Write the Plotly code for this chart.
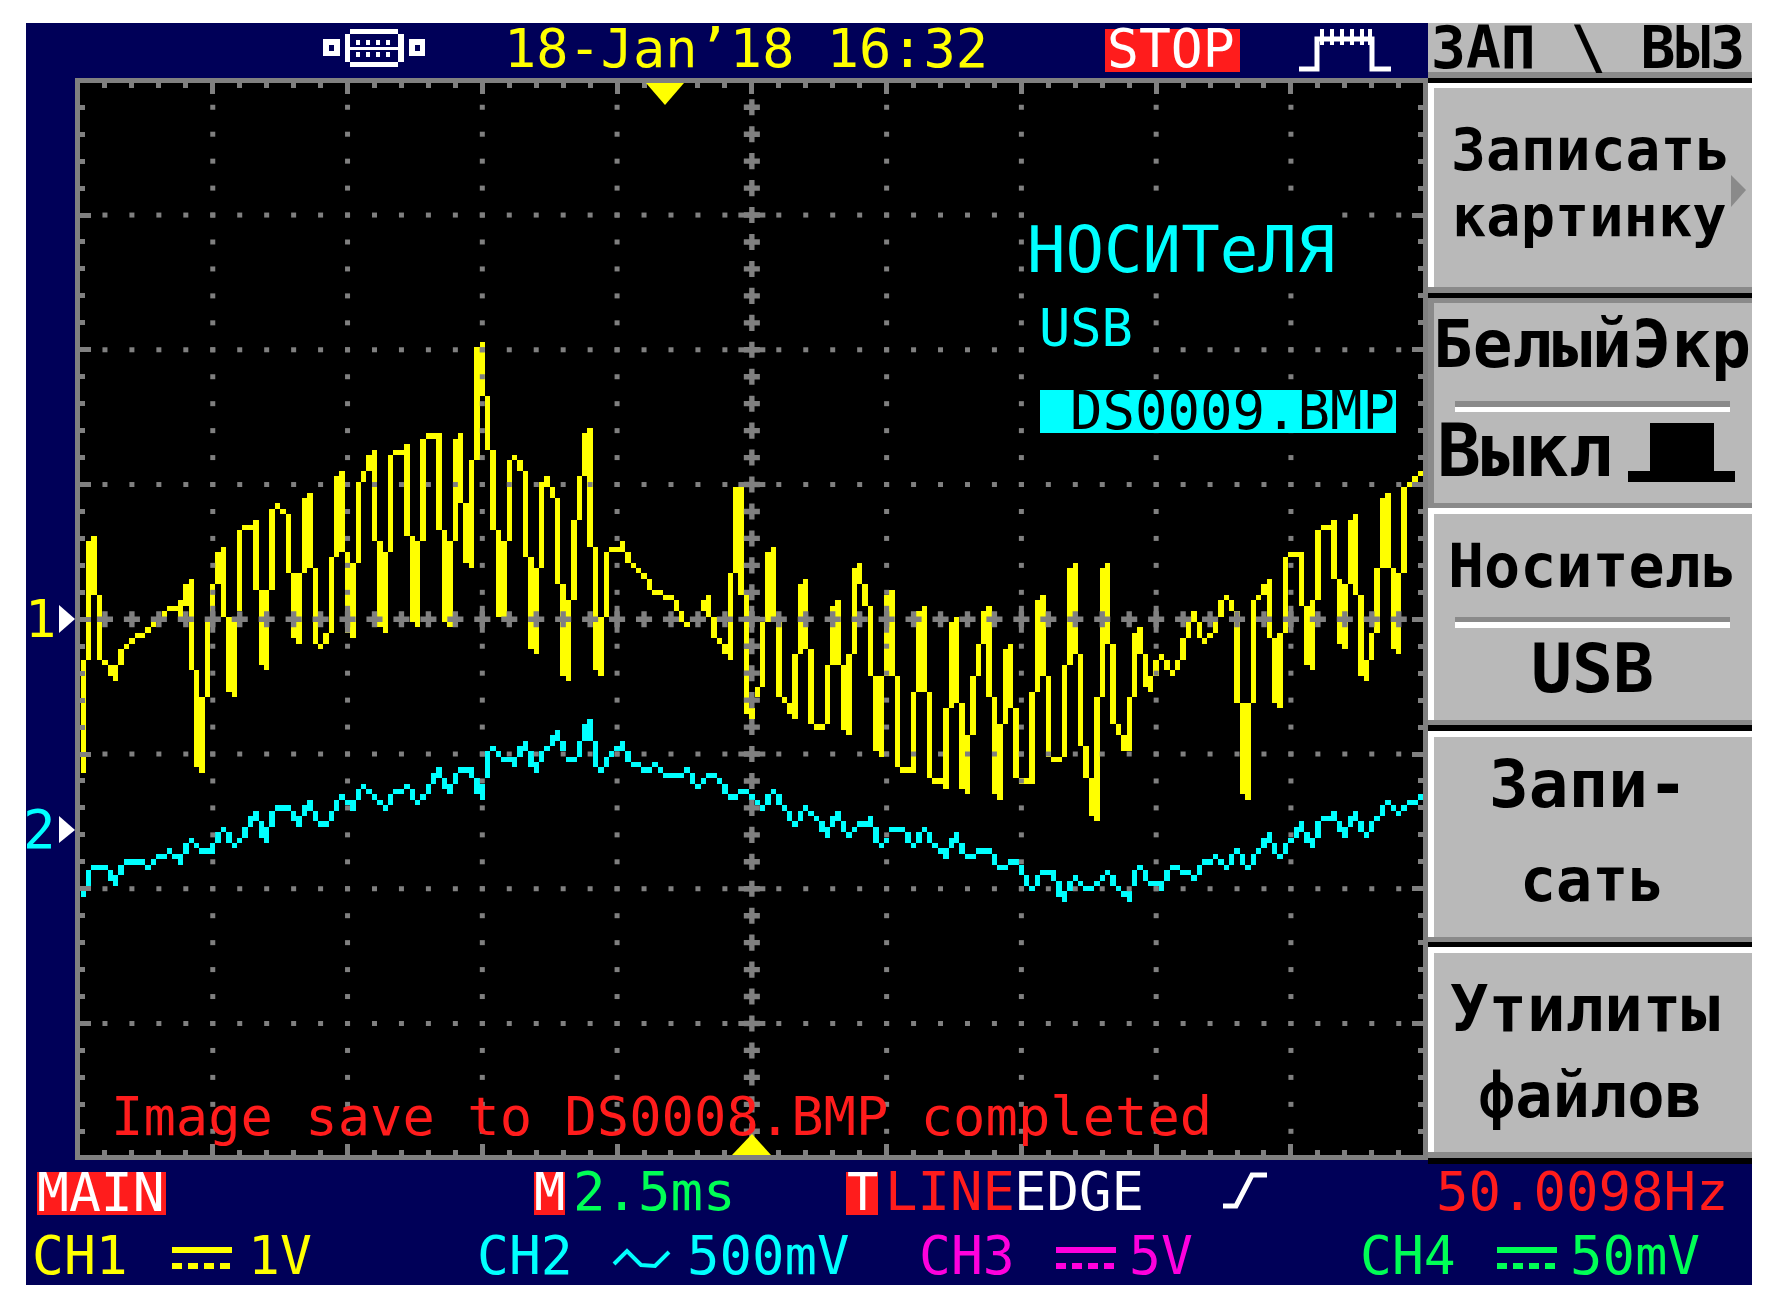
import plotly.graph_objects as go

# Trace data: each screen column holds a run of raster rows (1 row = 1/25 div from screen centre)
ch1_high = [-8,14,15,4,-8,-9,-9,-6,-5,-4,
 -3,-3,-2,-1,0,1,2,2,3,6,
 7,-10,-15,-1,6,12,13,0,-1,16,
 17,17,18,5,5,20,21,20,19,8,
 8,22,23,9,-5,-3,11,26,27,12,
 10,25,27,30,31,14,12,30,31,31,
 32,15,14,33,34,34,34,16,14,33,
 34,21,29,50,51,41,31,16,14,29,
 30,29,27,11,9,25,26,24,22,6,
 3,18,26,34,35,13,0,12,13,13,
 14,12,10,9,8,7,5,5,4,4,
 3,1,-1,0,0,3,4,0,-4,-5,
 8,24,24,4,-17,-13,-1,12,13,-1,
 -15,-16,-7,6,7,-6,-20,-20,-9,2,
 3,-9,-7,9,10,6,2,-11,-11,4,
 5,-11,-28,-28,-14,1,2,-14,-30,-30,
 -17,-1,0,-16,-22,-11,-5,1,2,-15,
 -20,-6,-5,-17,-30,-30,-14,3,4,-11,
 -26,-26,-9,9,10,-7,-24,-30,-15,9,
 10,-5,-20,-22,-15,-3,-2,-7,-11,-8,
 -7,-8,-10,-8,-4,-1,1,-1,-4,-3,
 -1,3,4,3,1,-16,-16,3,4,6,
 7,-4,-3,11,12,12,12,2,3,16,
 17,17,18,7,6,18,19,4,-8,-3,
 9,22,23,9,8,24,25,26,27]
ch1_low = [-28,-7,5,-7,-8,-10,-11,-8,-5,-4,
 -3,-3,-2,-1,0,1,2,2,0,3,
 -9,-27,-28,-14,0,7,1,-13,-14,2,
 17,17,6,-8,-9,6,21,20,9,-3,
 -4,9,10,-4,-5,-4,-2,12,13,-2,
 -3,11,26,28,15,-1,-2,13,31,31,
 16,0,-1,15,34,34,17,0,-1,15,
 22,11,10,30,42,32,17,1,1,15,
 30,28,12,-5,-6,10,25,23,7,-10,
 -11,4,19,27,14,-9,-10,1,13,13,
 13,11,10,9,8,6,5,5,4,4,
 2,0,-1,0,0,2,1,-3,-4,-6,
 -7,9,5,-17,-18,-14,-12,0,0,-14,
 -15,-17,-18,-6,-5,-19,-20,-20,-19,-8,
 -8,-20,-21,-6,7,3,-10,-24,-25,-10,
 -10,-27,-28,-28,-28,-13,-13,-29,-30,-30,
 -31,-16,-15,-31,-32,-21,-10,-4,-14,-32,
 -33,-19,-16,-29,-30,-30,-30,-13,-10,-25,
 -26,-26,-25,-8,-6,-23,-29,-36,-37,-14,
 -4,-19,-21,-24,-24,-14,-6,-12,-13,-10,
 -7,-9,-10,-9,-7,-3,0,-3,-4,-3,
 -2,1,4,2,-15,-32,-33,-15,4,5,
 -3,-15,-16,-2,12,12,3,-8,-9,4,
 17,17,8,-4,-5,7,5,-10,-11,-7,
 -2,10,10,-5,-6,9,25,26,27]
ch2_high = [-51,-47,-46,-46,-46,-47,-48,-46,-45,-45,
 -45,-45,-46,-45,-44,-44,-43,-44,-44,-42,
 -41,-42,-43,-43,-42,-40,-39,-40,-42,-41,
 -39,-37,-36,-38,-39,-36,-35,-35,-35,-36,
 -37,-35,-34,-36,-38,-38,-36,-34,-33,-34,
 -34,-32,-31,-32,-33,-34,-35,-33,-32,-32,
 -31,-32,-34,-33,-31,-29,-28,-30,-31,-29,
 -28,-28,-28,-30,-31,-25,-24,-25,-26,-26,
 -26,-24,-23,-25,-27,-25,-24,-22,-21,-23,
 -26,-26,-23,-20,-19,-23,-28,-26,-25,-24,
 -23,-25,-27,-27,-28,-28,-27,-28,-29,-29,
 -29,-29,-28,-29,-31,-30,-29,-29,-30,-31,
 -33,-33,-32,-32,-33,-34,-35,-33,-32,-33,
 -35,-36,-38,-36,-35,-36,-37,-38,-39,-37,
 -36,-38,-40,-39,-38,-38,-37,-39,-42,-41,
 -39,-39,-39,-40,-42,-40,-39,-40,-42,-43,
 -43,-41,-40,-42,-44,-44,-43,-43,-43,-44,
 -46,-46,-45,-45,-46,-48,-50,-48,-47,-47,
 -47,-49,-51,-49,-48,-49,-50,-50,-49,-48,
 -47,-48,-50,-51,-51,-47,-46,-47,-49,-49,
 -49,-47,-46,-46,-47,-47,-48,-46,-45,-45,
 -44,-45,-46,-44,-43,-44,-46,-44,-43,-41,
 -40,-42,-44,-42,-41,-39,-38,-40,-41,-38,
 -37,-37,-36,-38,-39,-37,-36,-38,-40,-38,
 -37,-35,-34,-35,-36,-35,-34,-34,-33]
ch2_low = [-51,-49,-46,-46,-46,-48,-49,-47,-45,-45,
 -45,-45,-46,-45,-44,-44,-43,-44,-45,-43,
 -41,-42,-43,-43,-43,-41,-39,-41,-42,-41,
 -40,-38,-37,-40,-41,-38,-35,-35,-35,-37,
 -38,-36,-35,-37,-38,-38,-37,-35,-33,-34,
 -35,-33,-31,-32,-33,-34,-35,-34,-32,-32,
 -31,-33,-34,-33,-32,-30,-29,-31,-32,-30,
 -28,-28,-29,-32,-33,-29,-24,-25,-26,-26,
 -27,-25,-24,-27,-28,-26,-24,-23,-22,-24,
 -26,-26,-25,-22,-22,-27,-28,-27,-25,-24,
 -24,-26,-27,-27,-28,-28,-27,-28,-29,-29,
 -29,-29,-28,-30,-31,-30,-29,-29,-30,-32,
 -33,-33,-32,-32,-33,-34,-35,-34,-32,-34,
 -35,-37,-38,-37,-35,-36,-37,-39,-40,-38,
 -37,-39,-40,-39,-38,-38,-38,-41,-42,-41,
 -39,-39,-39,-41,-42,-41,-39,-41,-42,-43,
 -44,-42,-41,-43,-44,-44,-43,-43,-43,-45,
 -46,-46,-45,-45,-47,-49,-50,-49,-47,-47,
 -48,-51,-52,-50,-48,-49,-50,-50,-49,-48,
 -47,-49,-50,-51,-52,-49,-46,-48,-49,-49,
 -50,-48,-46,-46,-47,-47,-48,-47,-45,-45,
 -44,-45,-46,-45,-43,-45,-46,-45,-43,-42,
 -41,-43,-44,-43,-41,-40,-39,-41,-42,-40,
 -37,-37,-37,-39,-40,-38,-37,-39,-40,-39,
 -37,-36,-34,-35,-36,-35,-34,-34,-33]

major_cols = [24, 49, 74, 99, 149, 174, 199, 224]
major_rows = [-75, -50, -25, 25, 50, 75]
center_col = 124
minor_cols = list(range(4, 249, 5))
minor_rows = list(range(-95, 100, 5))

W, H = 1776, 1312
NAVY, GRAY, PANEL, DARK = "#000058", "#808080", "#B9B9B9", "#8A8A8A"
YEL, CYN, RED, GRN, MAG, WHT, BLK = "#FFFF00", "#00FFFF", "#FF1C1C", "#00FF55", "#FF00DD", "#FFFFFF", "#000000"
MONO = "DejaVu Sans Mono"

fig = go.Figure()
for hi, lo, col, name in [(ch1_high, ch1_low, YEL, "CH1"), (ch2_high, ch2_low, CYN, "CH2")]:
    fig.add_trace(go.Bar(x=list(range(len(hi))), base=[l - 0.5 for l in lo],
                         y=[h - l + 1 for h, l in zip(hi, lo)], width=1, name=name,
                         marker=dict(color=col, line=dict(width=0))))

# graticule drawn over the traces, as on the instrument
gx = [c for c in major_cols for r in minor_rows] + [c for r in major_rows for c in minor_cols]
gy = [r for c in major_cols for r in minor_rows] + [r for r in major_rows for c in minor_cols]
fig.add_trace(go.Scatter(x=gx, y=gy, mode="markers", marker=dict(symbol="square", size=5, color=GRAY, line=dict(width=0))))
cx = [center_col] * len(minor_rows) + minor_cols
cy = minor_rows + [0] * len(minor_cols)
fig.add_trace(go.Scatter(x=cx, y=cy, mode="markers", marker=dict(symbol="cross", size=13.4, color=GRAY, line=dict(width=0))))
lx, ly = [], []
for c in major_cols + [center_col]:
    lx += [c, c, None]; ly += [-2.5, 2.5, None]
for r in major_rows + [0]:
    lx += [center_col - 2.5, center_col + 2.5, None]; ly += [r, r, None]
fig.add_trace(go.Scatter(x=lx, y=ly, mode="lines", line=dict(color=GRAY, width=5)))

shapes, ann = [], []
def px(x): return x / W
def py(y): return 1 - y / H
def R(x0, y0, x1, y1, color, layer="below"):
    shapes.append(dict(type="rect", xref="paper", yref="paper", x0=px(x0), x1=px(x1), y0=py(y0), y1=py(y1),
                       fillcolor=color, line=dict(width=0), layer=layer))
def P(points, fill=None, line=None, width=5, layer="above", close=False):
    d = "M " + " L ".join(f"{px(a):.5f},{py(b):.5f}" for a, b in points) + (" Z" if close else "")
    shapes.append(dict(type="path", xref="paper", yref="paper", path=d, fillcolor=fill,
                       line=dict(width=width if line else 0, color=line), layer=layer))
def T(text, x, y, size, color, bold=False):
    ann.append(dict(text=f"<b>{text}</b>" if bold else text, xref="paper", yref="paper", x=px(x), y=py(y),
                    xanchor="center", yanchor="middle", showarrow=False, borderpad=0,
                    font=dict(family=MONO, size=size, color=color)))

# Screen
R(26, 23, 1752, 1285, NAVY)
R(80, 83, 1423, 1155, BLK)
# Soft-key panel
R(1428, 23, 1752, 72, PANEL); R(1428, 72, 1752, 78, DARK); R(1428, 78, 1752, 83, BLK)
R(1428, 83, 1752, 287, WHT); R(1434, 88, 1752, 287, PANEL); R(1428, 287, 1752, 293, DARK); R(1428, 293, 1752, 298, BLK)
R(1428, 298, 1752, 508, DARK); R(1434, 303, 1752, 503, PANEL)
R(1428, 508, 1752, 720, WHT); R(1434, 514, 1752, 720, PANEL); R(1428, 720, 1752, 725, DARK); R(1428, 725, 1752, 731, BLK)
R(1428, 731, 1752, 937, WHT); R(1434, 737, 1752, 937, PANEL); R(1428, 937, 1752, 942, DARK); R(1428, 942, 1752, 947, BLK)
R(1428, 947, 1752, 1152, WHT); R(1434, 953, 1752, 1152, PANEL); R(1428, 1152, 1752, 1158, DARK); R(1428, 1158, 1752, 1164, BLK)
R(1455, 401, 1730, 407, DARK); R(1455, 407, 1730, 412, WHT)
R(1455, 617, 1730, 622, DARK); R(1455, 622, 1730, 628, WHT)
R(1650, 423, 1714, 471, BLK); R(1628, 471, 1735, 482, BLK)
P([(1731, 175), (1746, 190), (1731, 207)], fill=DARK, close=True)
# Status flags
R(1105, 29, 1240, 72, RED); R(37, 1172, 166, 1215, RED); R(534, 1172, 565, 1215, RED); R(846, 1172, 878, 1215, RED)
# Message windows inside the graticule
R(1027, 208, 1340, 275, BLK, "above"); R(1040, 390, 1396, 433, CYN, "above"); R(1038, 300, 1136, 354, BLK, "above")

# Pointers
P([(646, 83), (684, 83), (665, 105)], fill=YEL, close=True)
P([(732, 1155), (771, 1155), (752, 1134)], fill=YEL, close=True)
P([(59, 605), (75, 619), (59, 633)], fill=WHT, close=True)
P([(59, 816), (75, 830), (59, 843)], fill=WHT, close=True)
# Connector icon
R(323, 39, 340, 56, WHT, "above"); R(329, 45, 334, 51, NAVY, "above")
R(409, 39, 425, 56, WHT, "above"); R(415, 45, 420, 51, NAVY, "above")
R(350, 29, 398, 34, WHT, "above"); R(350, 62, 398, 67, WHT, "above")
R(345, 34, 350, 62, WHT, "above"); R(398, 34, 404, 62, WHT, "above")
R(350, 47, 398, 50, WHT, "above")
for x in (356, 366, 376, 386):
    R(x, 40, x + 4, 45, WHT, "above"); R(x, 52, x + 4, 57, WHT, "above")
# Memory icon
P([(1299, 69), (1317, 69), (1317, 39), (1372, 39), (1372, 69), (1391, 69)], line=WHT)
for x in (1320, 1330, 1340, 1350, 1360, 1368):
    R(x, 29, x + 4, 45, WHT, "above")
P([(1223, 1206), (1236, 1206), (1252, 1175), (1267, 1175)], line=WHT)
# Coupling symbols
for x0, c in ((172, YEL), (1056, MAG), (1497, GRN)):
    R(x0, 1247, x0 + 60, 1253, c)
    for i in range(4):
        R(x0 + i * 16, 1263, x0 + i * 16 + 10, 1269, c)
P([(614, 1264), (627, 1251), (641, 1265), (655, 1266), (669, 1252)], line=CYN, width=4)

# Text
T("18-Jan’18 16:32", 746, 48, 53.6, YEL)
T("STOP", 1171, 48, 53, WHT)
T("1", 40, 619, 52, YEL); T("2", 39, 830, 54, CYN)
T("НОСИТеЛЯ", 1181, 250, 64, CYN)
T("USB", 1086, 328, 52, CYN)
T("DS0009.BMP", 1232, 411, 54, BLK)
T("Image save to DS0008.BMP completed", 661, 1116, 53.8, RED)
T("MAIN", 101, 1192, 53, WHT); T("M", 549, 1192, 52, WHT); T("2.5ms", 654, 1191, 54, GRN)
T("T", 862, 1192, 52, WHT); T("LINE", 950, 1191, 54, RED); T("EDGE", 1079, 1191, 54, WHT)
T("50.0098Hz", 1582, 1191, 54, RED)
T("CH1", 80, 1255, 53, YEL); T("1V", 280, 1255, 53, YEL)
T("CH2", 525, 1255, 53, CYN); T("500mV", 768, 1255, 54, CYN)
T("CH3", 967, 1255, 53, MAG); T("5V", 1161, 1255, 53, MAG)
T("CH4", 1408, 1255, 53, GRN); T("50mV", 1635, 1255, 54, GRN)
T("ЗАП \\ ВЫЗ", 1588, 48, 58, BLK, True)
T("Записать", 1590, 150, 58, BLK, True); T("картинку", 1589, 216, 57, BLK, True)
T("БелыйЭкр", 1592, 344, 66, BLK, True); T("Выкл", 1525, 450, 73, BLK, True)
T("Носитель", 1592, 566, 60, BLK, True); T("USB", 1592, 668, 68, BLK, True)
T("Запи-", 1588, 785, 66, BLK, True); T("сать", 1592, 880, 60, BLK, True)
T("Утилиты", 1585, 1009, 64, BLK, True); T("файлов", 1590, 1095, 62, BLK, True)

axis = dict(showgrid=False, zeroline=False, showticklabels=False, showline=True, linecolor=GRAY, linewidth=5,
            mirror="ticks", ticks="inside", ticklen=11, tickwidth=5, tickcolor=GRAY, fixedrange=True)
fig.update_layout(
    width=W, height=H, margin=dict(l=0, r=0, t=0, b=0), paper_bgcolor="white", plot_bgcolor="rgba(0,0,0,0)",
    barmode="overlay", bargap=0, showlegend=False, hovermode=False, shapes=shapes, annotations=ann,
    xaxis=dict(axis, domain=[px(80), px(1423)], range=[-0.63, 248.5], tick0=-1, dtick=25,
               minor=dict(ticks="inside", ticklen=5, tickwidth=5, tickcolor=GRAY, dtick=5, tick0=-1, showgrid=False)),
    yaxis=dict(axis, domain=[py(1155), py(83)], range=[-99.4, 99.5], tick0=0, dtick=25,
               minor=dict(ticks="inside", ticklen=5, tickwidth=5, tickcolor=GRAY, dtick=5, tick0=0, showgrid=False)),
)
fig.write_html("out.html", config={"displayModeBar": False},
               post_script="document.body.style.margin='0';document.body.style.overflow='hidden';")
